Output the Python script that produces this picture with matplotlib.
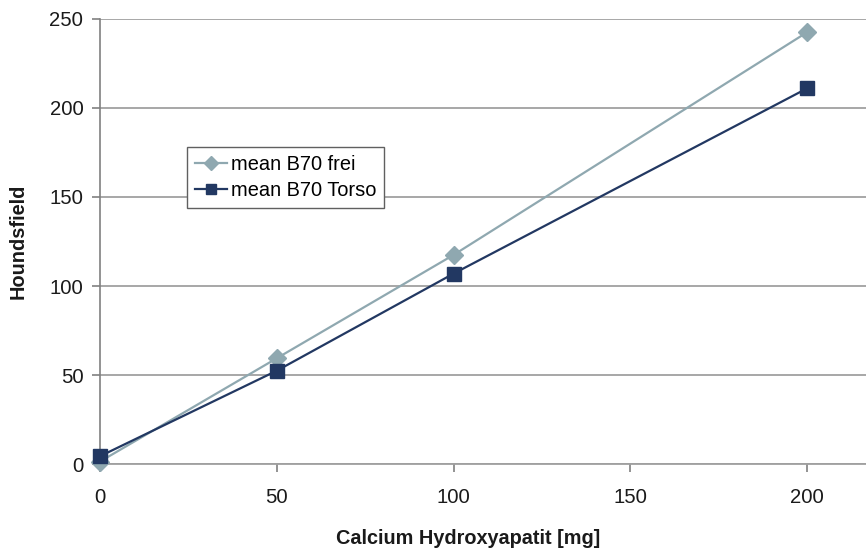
import matplotlib.pyplot as plt

plt.rcParams['font.family'] = ['Liberation Sans', 'DejaVu Sans']

mass = [0, 50, 100, 200]
hu_frei = [1.5, 59.5, 117.5, 242.5]
hu_torso = [4.5, 52.5, 107, 211]
x_ticks = [0, 50, 100, 150, 200]
y_ticks = [0, 50, 100, 150, 200, 250]

fig = plt.figure(figsize=(8.66, 5.52), dpi=100)
ax = fig.add_axes([0.1155, 0.159, 0.8845, 0.807])

ax.plot(mass, hu_frei, color='#8fa8b0', lw=1.6, marker='D', ms=9,
        label='mean B70 frei', zorder=3)
ax.plot(mass, hu_torso, color='#223862', lw=1.6, marker='s', ms=9.5,
        label='mean B70 Torso', zorder=4)

ax.set_xlim(0, 216.6)
ax.set_ylim(0, 250)
ax.set_xticks(x_ticks)
ax.set_yticks(y_ticks)
ax.grid(axis='y', color='#a0a0a0', lw=1.3)
ax.set_axisbelow(True)

for s in ['top', 'right']:
    ax.spines[s].set_visible(False)
ax.spines['left'].set_color('#808080')
ax.spines['bottom'].set_color('#a0a0a0')
ax.spines['left'].set_linewidth(1.2)
ax.spines['bottom'].set_linewidth(1.3)
ax.tick_params(axis='both', labelsize=14.6, colors='#808080',
               labelcolor='#1a1a1a', length=6, width=1.2)
ax.tick_params(axis='x', pad=11)
ax.tick_params(axis='y', pad=6)
for line in ax.lines:
    line.set_clip_on(False)

ax.set_xlabel('Calcium Hydroxyapatit [mg]', fontsize=14.3, fontweight='bold',
              color='#1a1a1a')
ax.xaxis.set_label_coords(0.48, -0.145)
ax.set_ylabel('Houndsfield', fontsize=14.3, fontweight='bold', color='#1a1a1a')
ax.yaxis.set_label_coords(-0.095, 0.5)

# legend box sits inside the plot, upper left
leg = ax.legend(loc='upper left', bbox_to_anchor=(187 / 866, 1 - 147 / 552),
                bbox_transform=fig.transFigure, fontsize=14.4, frameon=True,
                fancybox=False, edgecolor='#606060', framealpha=1,
                borderpad=0.4, labelspacing=0.35, handlelength=1.6,
                handletextpad=0.2, borderaxespad=0, markerscale=0.75)
leg.get_frame().set_linewidth(1.0)

fig.savefig('out.png', dpi=100)
